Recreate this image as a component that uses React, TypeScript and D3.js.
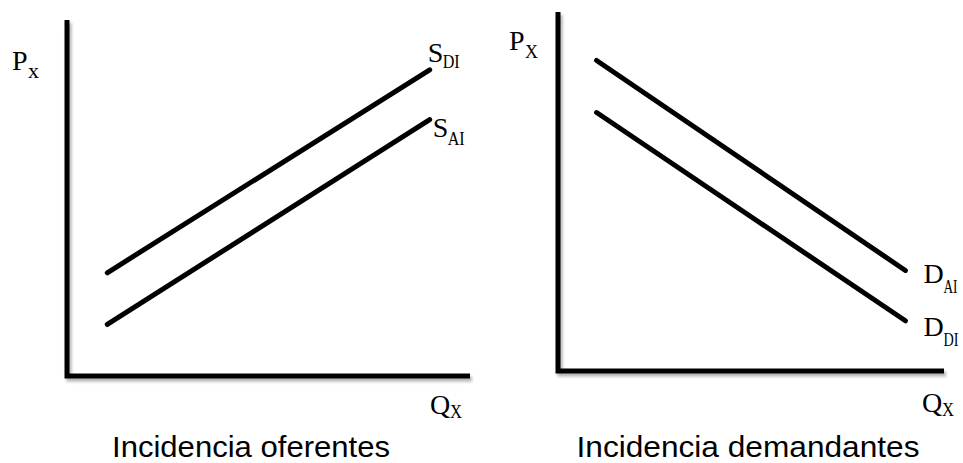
import React from "react";
import * as d3 from "d3";

// Supply curves (before / after the tax incidence), abstract price-quantity units
const supplyDI: [number, number][] = [[1, 2.9], [9, 8.6]];
const supplyAI: [number, number][] = [[1, 1.45], [9, 7.2]];
// Demand curves
const demandAI: [number, number][] = [[1, 8.65], [9, 2.8]];
const demandDI: [number, number][] = [[1, 7.2], [9, 1.4]];

const panelTitles = ["Incidencia oferentes", "Incidencia demandantes"];

const serif = "'Liberation Serif', 'DejaVu Serif', serif";
const sans = "'Liberation Sans', Arial, sans-serif";

// A letter with a narrow subscript next to it
function SubLabel(props: {
  x: number; y: number; main: string; sub: string;
  subDx: number; subDy: number; subW: number; subSize?: number;
}) {
  const { x, y, main, sub, subDx, subDy, subW, subSize = 18 } = props;
  return (
    <g fill="#000" fontFamily={serif}>
      <text x={x} y={y} fontSize={28}>{main}</text>
      <text x={x + subDx} y={y + subDy} fontSize={subSize} textLength={subW} lengthAdjust="spacingAndGlyphs">
        {sub}
      </text>
    </g>
  );
}

type Label = { main: string; sub: string; dx: number; dy: number; subDx: number; subDy: number; subW: number };

function Panel(props: {
  x0: number; x1: number; y0: number; y1: number;
  curves: { data: [number, number][]; label: Label }[];
  pLabel: { x: number; y: number; sub: string; subW: number };
  qLabel: { x: number; y: number };
  title: { x: number; y: number; text: string; width: number };
}) {
  const { x0, x1, y0, y1, curves, pLabel, qLabel, title } = props;
  const xs = d3.scaleLinear().domain([0, 10]).range([x0, x1]);
  const ys = d3.scaleLinear().domain([0, 10]).range([y0, y1]);
  const line = d3.line<[number, number]>().x((d) => xs(d[0])).y((d) => ys(d[1]));
  return (
    <g>
      <path
        d={`M${x0},${y1} V${y0} H${x1}`}
        fill="none"
        stroke="#000"
        strokeWidth={5}
        strokeLinejoin="miter"
        filter="url(#axisShadow)"
      />
      {curves.map((c, i) => {
        const end = c.data[c.data.length - 1];
        const ex = xs(end[0]);
        const ey = ys(end[1]);
        return (
          <g key={i}>
            <path d={line(c.data) || ""} fill="none" stroke="#000" strokeWidth={5} strokeLinecap="round" />
            <SubLabel
              x={ex + c.label.dx}
              y={ey + c.label.dy}
              main={c.label.main}
              sub={c.label.sub}
              subDx={c.label.subDx}
              subDy={c.label.subDy}
              subW={c.label.subW}
            />
          </g>
        );
      })}
      <SubLabel
        x={pLabel.x}
        y={pLabel.y}
        main="P"
        sub={pLabel.sub}
        subDx={16}
        subDy={8}
        subW={pLabel.subW}
        subSize={pLabel.sub === "x" ? 20 : 19}
      />
      <SubLabel x={qLabel.x} y={qLabel.y} main="Q" sub="X" subDx={20} subDy={4} subW={12} subSize={19} />
      <text
        x={title.x}
        y={title.y}
        fontFamily={sans}
        fontSize={30}
        textAnchor="middle"
        textLength={title.width}
        lengthAdjust="spacingAndGlyphs"
        fill="#000"
      >
        {title.text}
      </text>
    </g>
  );
}

export default function App() {
  return (
    <svg width={963} height={463} style={{ display: "block", position: "absolute", left: 0, top: 0, background: "#fff" }}>
      <defs>
        <filter id="axisShadow" x="-10%" y="-10%" width="120%" height="120%">
          <feDropShadow dx={2} dy={3} stdDeviation={1.5} floodColor="#000" floodOpacity={0.3} />
        </filter>
      </defs>
      <Panel
        x0={67} x1={470} y0={376} y1={20}
        curves={[
          { data: supplyDI, label: { main: "S", sub: "DI", dx: -2, dy: -8, subDx: 15, subDy: 6, subW: 17 } },
          { data: supplyAI, label: { main: "S", sub: "AI", dx: 3, dy: 17, subDx: 15, subDy: 8, subW: 17 } },
        ]}
        pLabel={{ x: 12, y: 70, sub: "x", subW: 11 }}
        qLabel={{ x: 430, y: 414 }}
        title={{ x: 251, y: 457, text: panelTitles[0], width: 278 }}
      />
      <Panel
        x0={558} x1={944} y0={371} y1={12}
        curves={[
          { data: demandAI, label: { main: "D", sub: "AI", dx: 18, dy: 13, subDx: 20, subDy: 10, subW: 14 } },
          { data: demandDI, label: { main: "D", sub: "DI", dx: 18, dy: 15, subDx: 20, subDy: 10, subW: 15 } },
        ]}
        pLabel={{ x: 509, y: 50, sub: "X", subW: 13 }}
        qLabel={{ x: 922, y: 412 }}
        title={{ x: 748, y: 457, text: panelTitles[1], width: 343 }}
      />
    </svg>
  );
}
